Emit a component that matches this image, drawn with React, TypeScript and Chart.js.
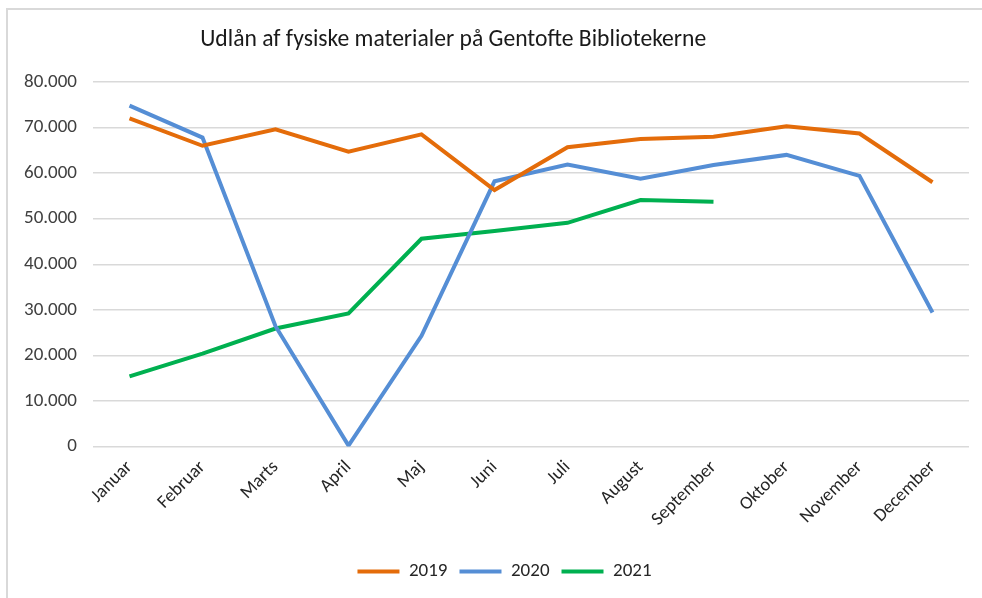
import React, { useEffect, useRef } from "react";
import { Chart, registerables } from "chart.js";

Chart.register(...registerables);

const TITLE = "Udlån af fysiske materialer på Gentofte Bibliotekerne";
const categories = [
  "Januar", "Februar", "Marts", "April", "Maj", "Juni",
  "Juli", "August", "September", "Oktober", "November", "December",
];
const seriesNames = ["2019", "2020", "2021"];
const values2019 = [72000, 66000, 69600, 64700, 68500, 56300, 65700, 67500, 68000, 70300, 68700, 58000];
const values2020 = [74800, 67800, 26400, 200, 24300, 58200, 61900, 58800, 61800, 64000, 59400, 29400];
const values2021 = [15400, 20400, 25900, 29200, 45600, 47300, 49100, 54100, 53700];
const yTicks = { min: 0, max: 80000, step: 10000 };
const colors = ["#E46C0A", "#558ED5", "#00B050"];

const FONT = "Calibri, Carlito, Lato, sans-serif";

const fmt = (v: number) => String(Math.round(v)).replace(/\B(?=(\d{3})+(?!\d))/g, ".");

const titlePlugin = {
  id: "customTitle",
  afterDraw(chart: any) {
    const ctx = chart.ctx;
    ctx.save();
    ctx.font = `23.6px ${FONT}`;
    ctx.fillStyle = "#1a1a1a";
    ctx.textAlign = "center";
    ctx.textBaseline = "middle";
    ctx.fillText(TITLE, chart.width * 0.4615, 40);
    ctx.restore();
  },
};

// Excel centres the legend slightly right of the canvas centre
const legendShiftPlugin = {
  id: "legendShift",
  afterLayout(chart: any) {
    const lg = chart.legend;
    if (lg) {
      lg.left += 20;
      lg.right += 20;
    }
  },
};

export default function App() {
  const ref = useRef<HTMLCanvasElement>(null);
  useEffect(() => {
    if (!ref.current) return;
    const allValues = [values2019, values2020, values2021];
    const chart = new Chart(ref.current, {
      type: "line",
      data: {
        labels: categories,
        datasets: seriesNames.map((name, i) => ({
          label: name,
          data: allValues[i],
          borderColor: colors[i],
          backgroundColor: colors[i],
          borderWidth: 4,
          pointRadius: 0,
          pointHoverRadius: 0,
          tension: 0,
          fill: false,
          pointStyle: "line",
        })),
      },
      options: {
        animation: false,
        responsive: false,
        events: [],
        layout: { padding: { left: 0, top: 82, right: 13, bottom: 7 } },
        plugins: {
          title: { display: false },
          tooltip: { enabled: false },
          legend: {
            position: "bottom",
            labels: {
              usePointStyle: true,
              pointStyle: "line",
              pointStyleWidth: 42,
              boxHeight: 19,
              padding: 12,
              color: "#262626",
              font: { family: FONT, size: 19 },
            },
          },
        },
        scales: {
          x: {
            offset: true,
            grid: { display: false, drawTicks: false },
            border: { display: false },
            ticks: {
              autoSkip: false,
              minRotation: 45,
              maxRotation: 45,
              padding: 10,
              color: "#262626",
              font: { family: FONT, size: 18.5 },
            },
            afterFit(scale: any) {
              scale.height = 103.5;
            },
          },
          y: {
            min: yTicks.min,
            max: yTicks.max,
            grid: { color: "#d9d9d9", lineWidth: 1.5, drawTicks: false },
            border: { display: false },
            ticks: {
              stepSize: yTicks.step,
              padding: 16,
              color: "#404040",
              font: { family: FONT, size: 19 },
              callback: (v: any) => fmt(Number(v)),
            },
            afterFit(scale: any) {
              scale.width = 93;
            },
          },
        },
      },
      plugins: [titlePlugin, legendShiftPlugin],
    });
    return () => chart.destroy();
  }, []);

  return (
    <div style={{ position: "fixed", left: 0, top: 0, width: 982, height: 598, background: "#fff", overflow: "hidden" }}>
      <div
        style={{
          position: "absolute",
          left: 6,
          top: 8,
          width: 1000,
          height: 620,
          border: "2px solid #d9d9d9",
          boxSizing: "border-box",
        }}
      />
      <canvas ref={ref} width={982} height={598} style={{ position: "absolute", left: 0, top: 0, width: 982, height: 598 }} />
    </div>
  );
}
